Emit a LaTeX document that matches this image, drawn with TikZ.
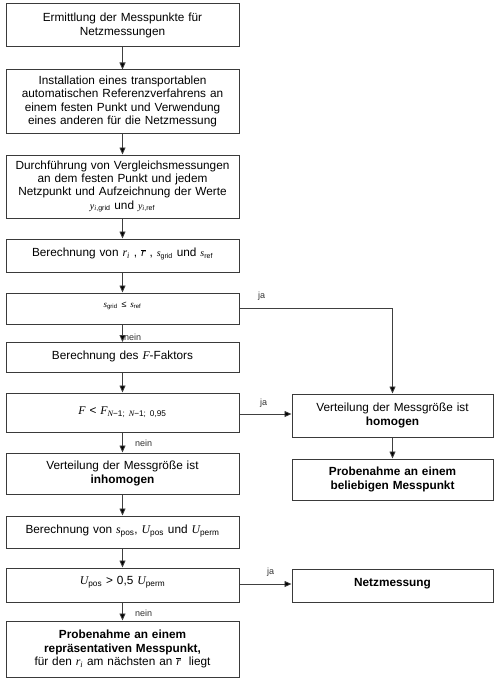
\documentclass[tikz,border=0pt]{standalone}
\usepackage{fontspec}
\setmainfont{Liberation Sans}
\newfontfamily\serifvar{Liberation Serif}
\usetikzlibrary{arrows.meta}
\newcommand\mv[1]{{\serifvar\itshape #1}}
\newcommand\subx[1]{\textsubscript{#1}}
\newcommand\rbar{$\overline{\mbox{\mv{r}}}$}
\definecolor{boxline}{HTML}{3A3A3A}
\definecolor{conline}{HTML}{404040}
\tikzset{
  fbox/.style={draw=boxline, line width=1pt, fill=white, align=center,
    font=\fontsize{11.8}{13.4}\selectfont, inner sep=2pt},
  lbox/.style={fbox, minimum width=233pt, text width=226pt},
  rbox/.style={fbox, minimum width=201pt, text width=194pt},
  conn/.style={draw=conline, line width=0.8pt, -{Triangle[length=7pt,width=6pt,fill=black]}},
  lab/.style={font=\fontsize{9}{10}\selectfont, inner sep=0pt, text=black!80}
}
\begin{document}
\begin{tikzpicture}[x=1pt,y=-1pt]
\useasboundingbox[fill=white] (0,0) rectangle (500,682);
\node[lbox, minimum height=43pt] (b1) at (122.5,25.5) {Ermittlung der Messpunkte für\\Netzmessungen};
\node[lbox, minimum height=63pt] (b2) at (122.5,101.5) {Installation eines transportablen\\automatischen Referenzverfahrens an\\einem festen Punkt und Verwendung\\eines anderen für die Netzmessung};
\node[lbox, minimum height=63pt] (b3) at (122.5,186.5) {Durchführung von Vergleichsmessungen\\an dem festen Punkt und jedem\\Netzpunkt und Aufzeichnung der Werte\\{\fontsize{10}{12}\selectfont\mv{y}\subx{\mv{i},grid}} und {\fontsize{10}{12}\selectfont\mv{y}\subx{\mv{i},ref}}};
\node[lbox, minimum height=33pt, text depth=6pt] (b4) at (122.5,255.5) {Berechnung von \mv{r}\subx{\mv{i}} , \rbar\ , {\fontsize{10}{12}\selectfont\mv{s}\subx{grid}} und {\fontsize{10}{12}\selectfont\mv{s}\subx{ref}}};
\node[lbox, minimum height=31pt, text depth=7pt] (b5) at (122.5,308.5) {\fontsize{9}{11}\selectfont\mv{s}\subx{grid} ≤ \mv{s}\subx{ref}};
\node[lbox, minimum height=30pt, text depth=5pt] (b6) at (122.5,357.5) {Berechnung des \mv{F}-Faktors};
\node[lbox, minimum height=39pt] (b7) at (122.5,412.5) {\mv{F} < \mv{F}\subx{\mv{N}−1; \mv{N}−1; 0,95}};
\node[lbox, minimum height=41pt] (b8) at (122.5,473.5) {Verteilung der Messgröße ist\\\textbf{inhomogen}};
\node[lbox, minimum height=32pt, text depth=5pt] (b9) at (122.5,532) {Berechnung von \mv{s}\subx{pos}, \mv{U}\subx{pos} und \mv{U}\subx{perm}};
\node[lbox, minimum height=34pt, text depth=9pt] (b10) at (122.5,585) {\mv{U}\subx{pos} > 0,5 \mv{U}\subx{perm}};
\node[lbox, minimum height=56pt] (b11) at (122.5,649) {\textbf{Probenahme an einem}\\\textbf{repräsentativen Messpunkt,}\\für den \mv{r}\subx{\mv{i}} am nächsten an \rbar\ \ liegt};
\node[rbox, minimum height=43pt] (r1) at (392.5,415.5) {Verteilung der Messgröße ist\\\textbf{homogen}};
\node[rbox, minimum height=41pt] (r2) at (392.5,479.5) {\textbf{Probenahme an einem}\\\textbf{beliebigen Messpunkt}};
\node[rbox, minimum height=33pt, text depth=7pt] (r3) at (392.5,585.5) {\textbf{Netzmessung}};
\draw[conn] (b1) -- (b2);
\draw[conn] (b2) -- (b3);
\draw[conn] (b3) -- (b4);
\draw[conn] (b4) -- (b5);
\draw[conn] (b5) -- (b6);
\draw[conn] (b6) -- (b7);
\draw[conn] (b7) -- (b8);
\draw[conn] (b8) -- (b9);
\draw[conn] (b9) -- (b10);
\draw[conn] (b10) -- (b11);
\draw[conn] (b5.east) -| (r1.north);
\draw[conn] (b7.east |- 0,414) -- (r1.west |- 0,414);
\draw[conn] (r1) -- (r2);
\draw[conn] (b10.east |- 0,584) -- (r3.west |- 0,584);
\node[lab, anchor=west] (ja1) at (258,296) {ja};
\node[lab, anchor=west] (ja2) at (260,403) {ja};
\node[lab, anchor=west] (ja3) at (267,572) {ja};
\node[lab, anchor=west] (n1) at (124,337) {nein};
\node[lab, anchor=west] (n2) at (135,443) {nein};
\node[lab, anchor=west] (n3) at (135,613) {nein};
\end{tikzpicture}
\end{document}
